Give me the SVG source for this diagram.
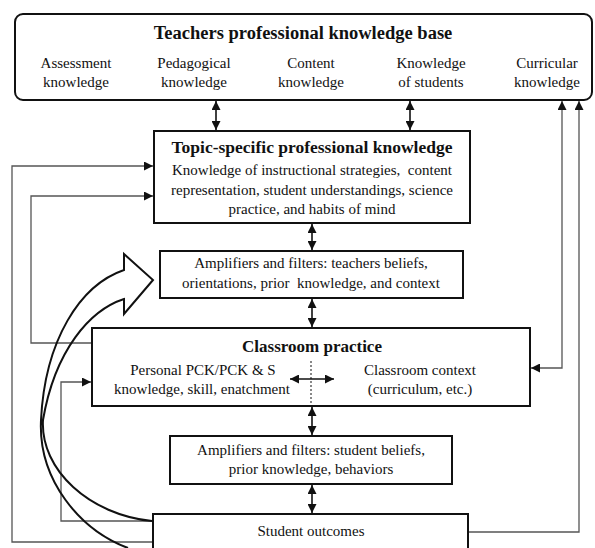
<svg xmlns="http://www.w3.org/2000/svg" width="595" height="548" viewBox="0 0 595 548">
<defs>
<style>
.box{fill:#fff;stroke:#111;stroke-width:2}
.t{font-family:"Liberation Serif","DejaVu Serif",serif;font-size:15px;fill:#111;text-anchor:middle;white-space:pre}
.b{font-weight:bold;font-size:17.5px}
.dbl{fill:none;stroke:#111;stroke-width:1.6;marker-start:url(#ah);marker-end:url(#ah)}
.fb{fill:none;stroke:#555;stroke-width:1.3}
.cur{fill:none;stroke:#111;stroke-width:2}
</style>
<marker id="ah" viewBox="0 0 10 10" refX="10" refY="5" markerWidth="9" markerHeight="9" markerUnits="userSpaceOnUse" orient="auto-start-reverse">
<path d="M0,0 L10,5 L0,10 z" fill="#111"/>
</marker>
</defs>
<rect width="595" height="548" fill="#fff"/>

<g id="connectors">
<path class="dbl" d="M216,101 V130"/>
<path class="dbl" d="M410,101 V130"/>
<path class="dbl" d="M312,224 V250"/>
<path class="dbl" d="M312,299 V327"/>
<path class="dbl" d="M312,407 V435"/>
<path class="dbl" d="M312,485 V513"/>
<path class="fb" d="M531,368 H562 V101" marker-start="url(#ah)" marker-end="url(#ah)"/>
<path class="fb" d="M468,532 H579 V101" marker-end="url(#ah)"/>
<path class="fb" d="M153,542 H12 V166 H153" marker-end="url(#ah)"/>
<path class="fb" d="M92,343 H31 V196 H153" marker-end="url(#ah)"/>
<path class="fb" d="M153,521 H61 V382 H91" marker-end="url(#ah)"/>
<path class="cur" d="M128,548 C80,530 38,480 41,420 C45,340 80,285 124,270 L124,254 L153,280 L124,314 L124,299 C90,310 55,350 43,420 C40,470 90,515 152,521"/>
</g>

<g id="kb">
<rect class="box" x="15" y="14" width="577" height="86" rx="8"/>
<text class="t b" x="303" y="39" style="font-size:18.5px">Teachers professional knowledge base</text>
<text class="t" x="76" y="68">Assessment</text><text class="t" x="76" y="87">knowledge</text>
<text class="t" x="194" y="68">Pedagogical</text><text class="t" x="194" y="87">knowledge</text>
<text class="t" x="311" y="68">Content</text><text class="t" x="311" y="87">knowledge</text>
<text class="t" x="431" y="68">Knowledge</text><text class="t" x="431" y="87">of students</text>
<text class="t" x="547" y="68">Curricular</text><text class="t" x="547" y="87">knowledge</text>
</g>

<g id="topic">
<rect class="box" x="154" y="131" width="316" height="92"/>
<text class="t b" x="312" y="153">Topic-specific professional knowledge</text>
<text class="t" x="312" y="175">Knowledge of instructional strategies,  content</text>
<text class="t" x="312" y="195">representation, student understandings, science</text>
<text class="t" x="312" y="214">practice, and habits of mind</text>
</g>

<g id="amp1">
<rect class="box" x="160" y="251" width="303" height="47"/>
<text class="t" x="311" y="268">Amplifiers and filters: teachers beliefs,</text>
<text class="t" x="311" y="288">orientations, prior  knowledge, and context</text>
</g>

<g id="classroom">
<rect class="box" x="92" y="328" width="438" height="78"/>
<text class="t b" x="312" y="352" style="font-size:17px">Classroom practice</text>
<text class="t" x="203" y="375">Personal PCK/PCK &amp; S</text>
<text class="t" x="202" y="394">knowledge, skill, enatchment</text>
<text class="t" x="420" y="375">Classroom context</text>
<text class="t" x="420" y="394">(curriculum, etc.)</text>
<path d="M311,361 V406" stroke="#111" stroke-width="1" stroke-dasharray="2,2" fill="none"/>
<path class="dbl" d="M290,379 H334"/>
</g>

<g id="amp2">
<rect class="box" x="170" y="436" width="282" height="48"/>
<text class="t" x="311" y="455">Amplifiers and filters: student beliefs,</text>
<text class="t" x="311" y="474">prior knowledge, behaviors</text>
</g>

<g id="outcomes">
<rect class="box" x="153" y="514" width="315" height="44"/>
<text class="t" x="311" y="536">Student outcomes</text>
</g>
</svg>
